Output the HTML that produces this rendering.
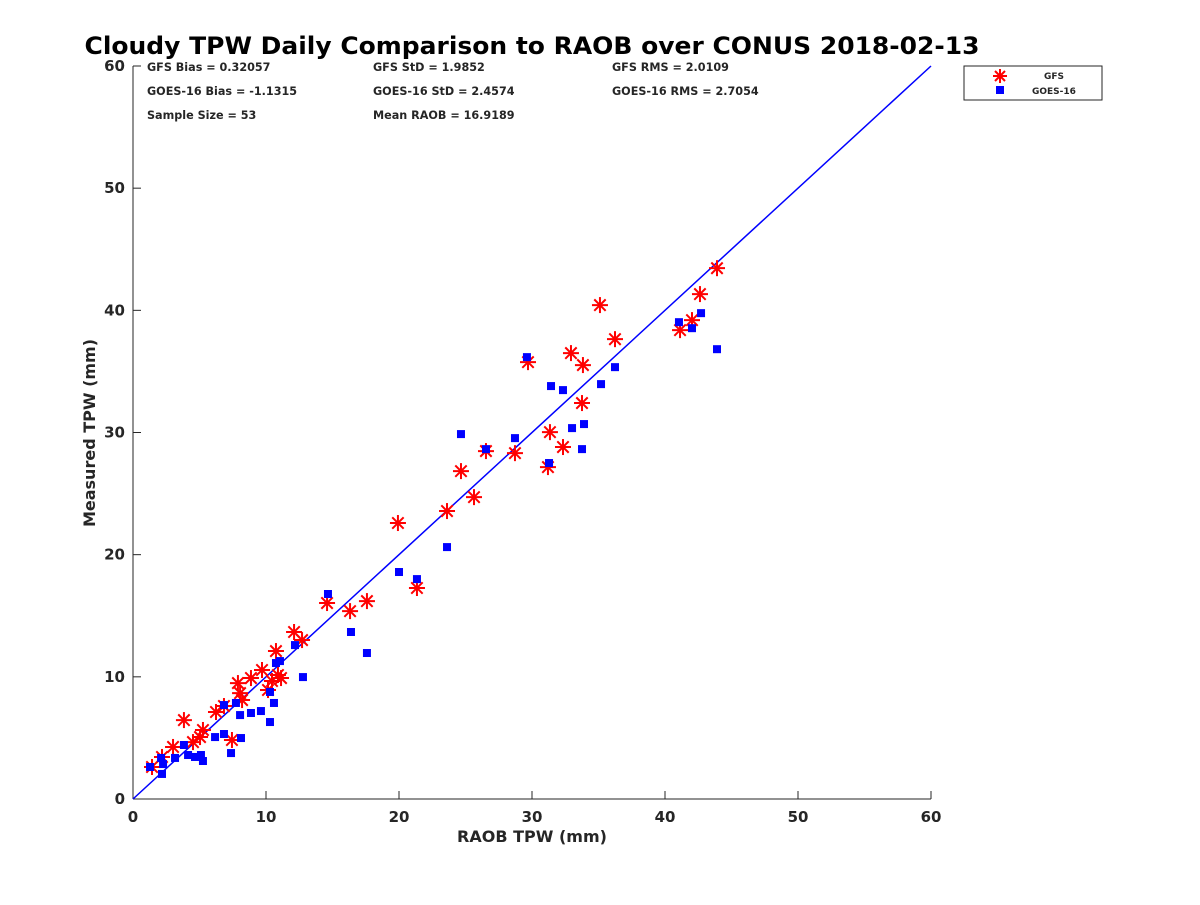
<!DOCTYPE html>
<html><head><meta charset="utf-8"><style>
body{margin:0;background:#fff;}
svg text{font-family:"DejaVu Sans","Liberation Sans",sans-serif;font-weight:bold;fill:#262626;}
</style></head><body>
<svg id="chart" width="1200" height="900" viewBox="0 0 1200 900" xmlns="http://www.w3.org/2000/svg">
<rect width="1200" height="900" fill="#fff"/>
<text x="532" y="54" font-size="24" text-anchor="middle" textLength="895" lengthAdjust="spacingAndGlyphs" style="fill:#000">Cloudy TPW Daily Comparison to RAOB over CONUS 2018-02-13</text>
<g id="axes"></g>
<g id="marks"></g>
<g font-size="11.2">
<text x="147" y="71">GFS Bias = 0.32057</text>
<text x="373" y="71">GFS StD = 1.9852</text>
<text x="612" y="71">GFS RMS = 2.0109</text>
<text x="147" y="95">GOES-16 Bias = -1.1315</text>
<text x="373" y="95">GOES-16 StD = 2.4574</text>
<text x="612" y="95">GOES-16 RMS = 2.7054</text>
<text x="147" y="119">Sample Size = 53</text>
<text x="373" y="119">Mean RAOB = 16.9189</text>
</g>
<text x="532" y="842" font-size="16" text-anchor="middle">RAOB TPW (mm)</text>
<text transform="translate(95,433) rotate(-90)" font-size="16" text-anchor="middle">Measured TPW (mm)</text>
<g>
<rect x="964" y="66" width="138" height="34" fill="#fff" stroke="#262626" stroke-width="1"/>
<g>
<g stroke="#f00" stroke-width="2"><line x1="1000" y1="69" x2="1000" y2="83"/><line x1="993" y1="76" x2="1007" y2="76"/><line x1="995" y1="71" x2="1005" y2="81"/><line x1="995" y1="81" x2="1005" y2="71"/></g>
<text x="1044" y="79" font-size="9">GFS</text></g>
<g>
<rect x="996" y="86" width="8" height="8" fill="#00f"/>
<text x="1032" y="94" font-size="9">GOES-16</text></g>
</g>
</svg>
<script>
const ticks=[0,10,20,30,40,50,60];
const gfsX=[1.43,2.18,3.01,3.83,4.51,5.04,5.26,6.24,6.84,7.44,7.89,8.05,8.20,8.87,9.70,10.15,10.45,10.75,10.90,11.13,12.11,12.71,14.59,16.32,17.59,19.92,21.35,23.61,24.66,25.64,26.54,28.72,29.70,31.20,31.35,32.33,32.93,33.83,33.76,35.11,36.24,41.13,42.03,42.63,43.91];
const gfsY=[2.62,3.44,4.26,6.46,4.66,5.07,5.65,7.12,7.61,4.83,9.49,8.67,8.10,9.90,10.56,8.92,9.66,12.11,10.15,9.90,13.67,13.01,16.04,15.38,16.20,22.59,17.27,23.57,26.84,24.71,28.48,28.31,35.76,27.17,30.03,28.81,36.50,35.52,32.41,40.43,37.64,38.38,39.20,41.33,43.45];
const goesX=[1.28,2.11,2.26,2.18,3.16,3.83,4.14,4.66,5.11,5.26,6.17,6.84,7.37,8.12,7.74,6.84,8.05,8.87,9.62,10.30,10.30,10.60,10.75,11.05,12.18,12.78,14.66,16.39,17.59,20.00,21.35,23.61,24.66,26.54,28.72,29.62,31.28,31.43,32.33,33.01,33.91,33.76,35.19,36.24,41.05,42.03,42.71,43.91];
const goesY=[2.62,3.36,2.86,2.05,3.36,4.42,3.60,3.44,3.60,3.11,5.07,5.32,3.76,4.99,7.86,7.69,6.87,7.04,7.20,6.30,8.76,7.86,11.13,11.29,12.60,9.98,16.78,13.67,11.95,18.58,18.00,20.62,29.87,28.64,29.54,36.17,27.50,33.80,33.47,30.36,30.69,28.64,33.96,35.35,39.03,38.54,39.77,36.82];
const X0=133,X1=931,Y0=799,Y1=66;
const sx=v=>X0+(v-0)/60*(X1-X0);
const sy=v=>Y0-(v-0)/60*(Y0-Y1);
const NS="http://www.w3.org/2000/svg";
function mk(tag,attrs,parent){const e=document.createElementNS(NS,tag);for(const k in attrs)e.setAttribute(k,attrs[k]);parent.appendChild(e);return e;}
const axes=document.getElementById('axes'),marks=document.getElementById('marks');
let l=mk('line',{x1:X0,y1:Y0,x2:X1,y2:Y0,stroke:'#262626','stroke-width':1},axes);


l=mk('line',{x1:X0,y1:Y0,x2:X0,y2:Y1,stroke:'#262626','stroke-width':1},axes);


ticks.forEach(t=>{
 mk('line',{x1:sx(t),y1:Y0,x2:sx(t),y2:Y0-8,stroke:'#262626'},axes);
 mk('line',{x1:X0,y1:sy(t),x2:X0+8,y2:sy(t),stroke:'#262626'},axes);
 let tx=mk('text',{x:sx(t),y:Y0+23,'font-size':15,'text-anchor':'middle'},axes);tx.textContent=t;
 
 
 let ty=mk('text',{x:X0-8,y:sy(t)+5,'font-size':15,'text-anchor':'end'},axes);ty.textContent=t;
 
 
});
const ref=mk('line',{x1:sx(0),y1:sy(0),x2:sx(60),y2:sy(60),stroke:'#00f','stroke-width':1.5},marks);


gfsX.forEach((v,i)=>{
 const cx=sx(v),cy=sy(gfsY[i]);
 const g=mk('g',{stroke:'#f00','stroke-width':2},marks);
 
 
 mk('line',{x1:cx,y1:cy-8,x2:cx,y2:cy+8},g);
 mk('line',{x1:cx-8,y1:cy,x2:cx+8,y2:cy},g);
 mk('line',{x1:cx-5.7,y1:cy-5.7,x2:cx+5.7,y2:cy+5.7},g);
 mk('line',{x1:cx-5.7,y1:cy+5.7,x2:cx+5.7,y2:cy-5.7},g);
});
goesX.forEach((v,i)=>{
 const r=mk('rect',{x:sx(v)-4,y:sy(goesY[i])-4,width:8,height:8,fill:'#00f'},marks);
 
 
});
</script>
</body></html>
